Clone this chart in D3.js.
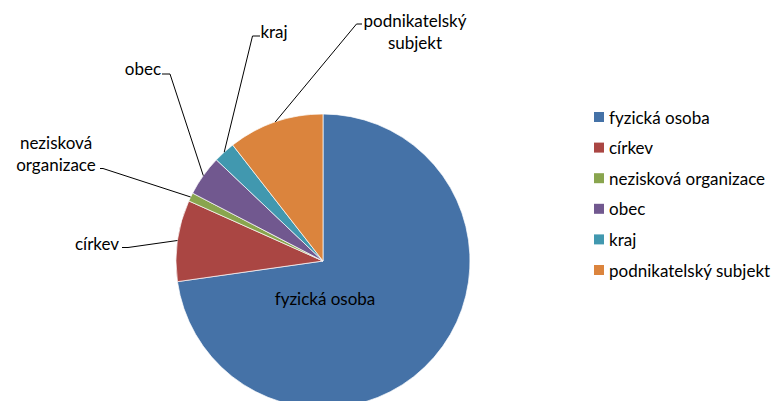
<!DOCTYPE html>
<html><head><meta charset="utf-8">
<script src="https://cdn.jsdelivr.net/npm/d3@7"></script>
<style>
html,body{margin:0;padding:0;background:#fff;}
text{font-family:Lato, "Open Sans", sans-serif;fill:#000;}
</style></head>
<body>
<svg id="chart" width="776" height="401"></svg>
<script>
const categories = ["fyzická osoba","církev","nezisková organizace","obec","kraj","podnikatelský subjekt"];
const values = [72.75, 8.94, 0.94, 4.44, 2.39, 10.53];
const colors = ["#4572A7","#AA4643","#89A54E","#71588F","#4198AF","#DB843D"];

const svg = d3.select("#chart");
const cx = 323, cy = 261, R = 147;
const fontSize = 17;

const pie = d3.pie().sort(null).value(d => d.v);
const data = categories.map((c,i) => ({c, v: values[i], col: colors[i]}));
const arcs = pie(data);
const arc = d3.arc().innerRadius(0).outerRadius(R);

const g = svg.append("g").attr("transform", `translate(${cx},${cy})`);
g.selectAll("path").data(arcs).join("path")
  .attr("d", arc).attr("fill", d => d.data.col)
  .attr("stroke", "#fff").attr("stroke-width", 0.7);

// label layout (position of label text and leader elbow), per category
const labelLayout = [
  {inside:true, x:325, y:298},
  {lines:["církev"], tx:97, ty:243, ex:122, ey:247.5, hx:128},
  {lines:["nezisková","organizace"], tx:56, ty:142, ex:100, ey:168.5, hx:103},
  {lines:["obec"], tx:143, ty:68, ex:162, ey:74, hx:170},
  {lines:["kraj"], tx:274, ty:31, ex:252.5, ey:36, hx:260},
  {lines:["podnikatelský","subjekt"], tx:415, ty:20, ex:356.5, ey:24, hx:362}
];

arcs.forEach((a,i) => {
  const L = labelLayout[i];
  if (L.inside) {
    svg.append("text").attr("x", L.x).attr("y", L.y).attr("text-anchor","middle")
      .attr("dominant-baseline","central").style("font-size", fontSize+"px").text(a.data.c);
    return;
  }
  const mid = (a.startAngle + a.endAngle)/2;
  const px = cx + R*Math.sin(mid), py = cy - R*Math.cos(mid);
  let pts;
  if (i >= 4) pts = [[px,py],[L.ex,L.ey],[L.hx,L.ey]];
  else pts = [[px,py],[L.hx,L.ey],[L.ex,L.ey]];
  svg.append("path").attr("d", d3.line()(pts)).attr("fill","none")
    .attr("stroke","#000").attr("stroke-width",1);
  const t = svg.append("text").attr("x", L.tx).attr("y", L.ty).attr("text-anchor","middle")
    .style("font-size", fontSize+"px");
  L.lines.forEach((ln,j) => {
    t.append("tspan").attr("x", L.tx).attr("y", L.ty + j*22).attr("dominant-baseline","central").text(ln);
  });
});

// legend
const lg = svg.append("g");
categories.forEach((c,i) => {
  const y = 117 + i*30.6;
  lg.append("rect").attr("x",594).attr("y",y-5).attr("width",10).attr("height",10).attr("fill",colors[i]);
  lg.append("text").attr("x",609).attr("y",y).attr("dominant-baseline","central")
    .style("font-size", fontSize+"px").text(c);
});
</script>
</body></html>
